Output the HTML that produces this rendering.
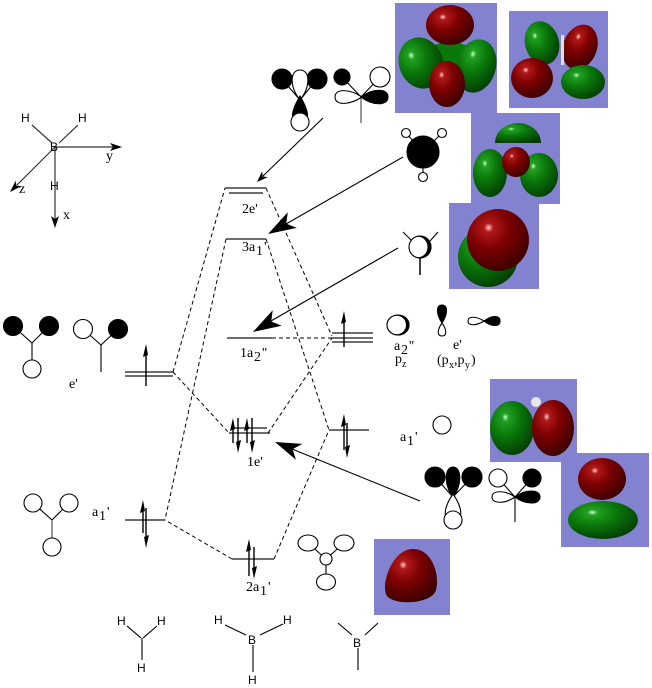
<!DOCTYPE html>
<html><head><meta charset="utf-8">
<style>
html,body{margin:0;padding:0;background:#fff;}
svg{display:block;}
.s{font-family:"Liberation Serif",serif;font-size:14px;fill:#000;}
.ss{font-family:"Liberation Serif",serif;font-size:10px;fill:#000;}
.a{font-family:"Liberation Sans",sans-serif;font-size:12px;fill:#000;}
</style></head>
<body>
<svg width="652" height="688" viewBox="0 0 652 688" xmlns="http://www.w3.org/2000/svg">
<defs>
<radialGradient id="rd" cx="0.35" cy="0.3" r="0.75">
<stop offset="0" stop-color="#ffc8c8"/>
<stop offset="0.1" stop-color="#b01818"/>
<stop offset="0.45" stop-color="#7c0000"/>
<stop offset="1" stop-color="#3a0000"/>
</radialGradient>
<radialGradient id="gr" cx="0.35" cy="0.3" r="0.75">
<stop offset="0" stop-color="#c8ffc8"/>
<stop offset="0.1" stop-color="#22a022"/>
<stop offset="0.45" stop-color="#0a780a"/>
<stop offset="1" stop-color="#033d03"/>
</radialGradient>
</defs>

<!-- orbital boxes -->
<rect x="395" y="3" width="102" height="110" fill="#8282d0"/>
<g>
<ellipse cx="450" cy="55" rx="24" ry="13" fill="#0a780a"/>
<ellipse cx="421" cy="63" rx="22" ry="26" transform="rotate(-20 421 63)" fill="url(#gr)"/>
<ellipse cx="476" cy="66" rx="20" ry="27" transform="rotate(15 476 66)" fill="url(#gr)"/>
<ellipse cx="450" cy="25" rx="24" ry="20" fill="url(#rd)"/>
<ellipse cx="447" cy="84" rx="18" ry="23" fill="url(#rd)"/>
</g>
<rect x="509" y="11" width="99" height="97" fill="#8282d0"/>
<g>
<ellipse cx="542" cy="43" rx="17" ry="22" transform="rotate(-15 542 43)" fill="url(#gr)"/>
<ellipse cx="580" cy="47" rx="17" ry="23" transform="rotate(20 580 47)" fill="url(#rd)"/>
<ellipse cx="532" cy="78" rx="21" ry="20" fill="url(#rd)"/>
<ellipse cx="583" cy="82" rx="22" ry="17" fill="url(#gr)"/>
<rect x="561" y="35" width="3" height="30" fill="#e0e0e0"/>
</g>
<rect x="471" y="113" width="89" height="91" fill="#8282d0"/>
<g>
<path d="M495,143 A23,20 0 0 1 541,143 Z" fill="url(#gr)"/>
<ellipse cx="490" cy="173" rx="17" ry="24" fill="url(#gr)"/>
<ellipse cx="539" cy="175" rx="19" ry="22" fill="url(#gr)"/>
<ellipse cx="516" cy="162" rx="14" ry="15" fill="url(#rd)"/>
</g>
<rect x="449" y="203" width="90" height="86" fill="#8282d0"/>
<g>
<circle cx="488" cy="257" r="30" fill="url(#gr)"/>
<circle cx="498" cy="240" r="31" fill="url(#rd)"/>
</g>
<rect x="490" y="379" width="87" height="83" fill="#8282d0"/>
<g>
<ellipse cx="512" cy="428" rx="22" ry="27" fill="url(#gr)"/>
<ellipse cx="553" cy="428" rx="21" ry="28" fill="url(#rd)"/>
<circle cx="536" cy="402" r="5" fill="#e8e8e8"/>
</g>
<rect x="561" y="453" width="88" height="94" fill="#8282d0"/>
<g>
<ellipse cx="603" cy="520" rx="35" ry="19" fill="url(#gr)"/>
<ellipse cx="602" cy="479" rx="24" ry="21" fill="url(#rd)"/>
</g>
<rect x="374" y="539" width="76" height="76" fill="#8282d0"/>
<path d="M412,549 C432,548 440,575 436,590 C432,604 395,606 387,596 C380,585 392,550 412,549 Z" fill="url(#rd)"/>

<!-- axes -->
<g stroke="#333" stroke-width="1.2" fill="none">
<line x1="32" y1="125" x2="52" y2="143"/>
<line x1="78" y1="125" x2="59" y2="143"/>
<line x1="55" y1="147" x2="114" y2="147"/>
<line x1="55" y1="147" x2="17" y2="185"/>
<line x1="55" y1="147" x2="55" y2="220"/>
</g>
<polygon points="122,147 110,143 113,147 110,151" fill="#000"/>
<polygon points="10,192 21.3,186.3 16.4,185.6 15.7,180.7" fill="#000"/>
<polygon points="55,228 51,216 55,219 59,216" fill="#000"/>
<text class="a" x="21" y="122">H</text>
<text class="a" x="78" y="122">H</text>
<text class="a" x="50" y="151">B</text>
<text class="a" x="50" y="190">H</text>
<text class="s" x="106" y="160">y</text>
<text class="s" x="19" y="193">z</text>
<text class="s" x="63" y="219">x</text>

<!-- energy levels -->
<g stroke="#6e6e6e" stroke-width="2">
<line x1="225" y1="188" x2="266" y2="188"/>
<line x1="229" y1="193" x2="263" y2="193"/>
<line x1="226" y1="239" x2="266" y2="239"/>
<line x1="227" y1="338" x2="272" y2="338"/>
<line x1="332" y1="333" x2="373" y2="333"/>
<line x1="332" y1="338" x2="373" y2="338"/>
<line x1="332" y1="342" x2="373" y2="342"/>
<line x1="125" y1="372" x2="173" y2="372"/>
<line x1="125" y1="376" x2="173" y2="376"/>
<line x1="233" y1="428" x2="267" y2="428"/>
<line x1="229" y1="433" x2="270" y2="433"/>
<line x1="329" y1="430" x2="369" y2="430"/>
<line x1="125" y1="520" x2="165" y2="520"/>
<line x1="232" y1="559" x2="274" y2="559"/>
</g>

<!-- dashed correlation lines -->
<g stroke="#000" stroke-width="1" stroke-dasharray="4,3" fill="none">
<line x1="173" y1="372" x2="229" y2="433"/>
<line x1="173" y1="372" x2="225" y2="188"/>
<line x1="266" y1="188" x2="332" y2="336"/>
<line x1="226" y1="239" x2="165" y2="520"/>
<line x1="266" y1="239" x2="329" y2="430"/>
<line x1="272" y1="338" x2="332" y2="338"/>
<line x1="268" y1="433" x2="332" y2="338"/>
<line x1="232" y1="559" x2="165" y2="520"/>
<line x1="274" y1="559" x2="329" y2="430"/>
</g>

<!-- electron arrows -->
<g stroke="#000" stroke-width="1.4">
<line x1="344" y1="318" x2="344" y2="347"/>
<line x1="146" y1="351" x2="146" y2="386"/>
<line x1="233" y1="425" x2="233" y2="443"/>
<line x1="238" y1="418" x2="238" y2="446"/>
<line x1="247" y1="425" x2="247" y2="443"/>
<line x1="252" y1="418" x2="252" y2="446"/>
<line x1="344" y1="421" x2="344" y2="450"/>
<line x1="347" y1="423" x2="347" y2="451"/>
<line x1="143" y1="507" x2="143" y2="533"/>
<line x1="146" y1="508" x2="146" y2="541"/>
<line x1="249" y1="546" x2="249" y2="576"/>
<line x1="254" y1="547" x2="254" y2="572"/>
</g>
<g fill="#000">
<polygon points="344,311 341,324 346,322"/>
<polygon points="146,344 143,357 148,355"/>
<polygon points="233,418 230,431 235,429"/>
<polygon points="238,453 241,440 236,442"/>
<polygon points="247,418 244,431 249,429"/>
<polygon points="252,453 255,440 250,442"/>
<polygon points="344,414 341,427 346,425"/>
<polygon points="347,458 350,445 345,447"/>
<polygon points="143,500 140,513 145,511"/>
<polygon points="146,548 149,535 144,537"/>
<polygon points="249,539 246,552 251,550"/>
<polygon points="254,579 257,566 252,568"/>
</g>

<!-- pointer arrows -->
<g stroke="#000" stroke-width="1.1">
<line x1="323" y1="118" x2="263" y2="176"/>
<line x1="403" y1="157" x2="286" y2="224"/>
<line x1="398" y1="248" x2="271" y2="321"/>
<line x1="420" y1="501" x2="292" y2="449"/>
</g>
<g fill="#000">
<polygon points="257,182 267.7,177.2 262.7,176.4 262.1,171.4"/>
<polygon points="268,234 296.8,227.9 286.2,223.6 287.8,212.3"/>
<polygon points="253,332 281.7,325.8 271.2,321.5 272.7,310.2"/>
<polygon points="275,442 302.3,443.9 292.6,449.2 295.9,459.7"/>
</g>

<!-- level labels -->
<text class="s" x="242" y="213">2e'</text>
<text class="s" x="242" y="251">3a</text><text class="s" x="256" y="255">1</text><text class="s" x="264" y="251">'</text>
<text class="s" x="240" y="357">1a</text><text class="s" x="254" y="361">2</text><text class="s" x="262" y="357">''</text>
<text class="s" x="247" y="466">1e'</text>
<text class="s" x="246" y="591">2a</text><text class="s" x="260" y="595">1</text><text class="s" x="268" y="591">'</text>
<text class="s" x="69" y="388">e'</text>
<text class="s" x="92" y="516">a</text><text class="s" x="99" y="520">1</text><text class="s" x="107" y="516">'</text>
<text class="s" x="394" y="350">a</text><text class="s" x="401" y="354">2</text><text class="s" x="409" y="350">''</text>
<text class="s" x="395" y="363">p</text><text class="ss" x="402" y="367">z</text>
<text class="s" x="453" y="349">e'</text>
<text class="s" x="437" y="364">(p</text><text class="ss" x="449" y="368">x</text><text class="s" x="454" y="364">,p</text><text class="ss" x="465" y="368">y</text><text class="s" x="471" y="364">)</text>
<text class="s" x="400" y="441">a</text><text class="s" x="407" y="445">1</text><text class="s" x="415" y="441">'</text>

<!-- cartoons -->
<g stroke="#000" stroke-width="1.1" fill="#fff">
<!-- top cartoon 1 -->
<line x1="282" y1="79" x2="300" y2="100"/>
<line x1="317" y1="79" x2="300" y2="100"/>
<circle cx="282" cy="79" r="10" fill="#000"/>
<circle cx="317" cy="79" r="10" fill="#000"/>
<path d="M300,100 C289,86 290,70 300,70 C310,70 311,86 300,100 Z"/>
<path d="M300,96 C294,106 291,114 293,120 L307,120 C309,114 306,106 300,96 Z" fill="#000"/>
<circle cx="300" cy="122" r="9"/>
<!-- top cartoon 2 -->
<line x1="361" y1="97" x2="361" y2="123" stroke="#777" stroke-width="1.5"/>
<line x1="342" y1="77" x2="361" y2="97"/>
<line x1="380" y1="77" x2="361" y2="97"/>
<circle cx="342" cy="77" r="8" fill="#000"/>
<circle cx="380" cy="77" r="10"/>
<path d="M362,97 C350,89 335,88 335,97 C335,106 350,105 362,97 Z"/>
<path d="M361,97 C373,88 388,88 388,97 C388,106 373,106 361,97 Z" fill="#000"/>
<!-- BH3 big -->
<line x1="406" y1="133" x2="423" y2="152"/>
<line x1="442" y1="133" x2="423" y2="152"/>
<line x1="423" y1="152" x2="423" y2="177"/>
<circle cx="406" cy="133" r="4.5"/>
<circle cx="442" cy="133" r="4.5"/>
<circle cx="423" cy="177" r="4.5"/>
<circle cx="423" cy="152" r="16" fill="#000"/>
<!-- pz cartoon -->
<line x1="403" y1="232" x2="412" y2="241"/>
<line x1="438" y1="232" x2="430" y2="241"/>
<line x1="420" y1="255" x2="420" y2="275" stroke-width="1.5"/>
<circle cx="420" cy="247" r="11" fill="#000"/>
<ellipse cx="418" cy="247" rx="9.5" ry="10.3" fill="#fff" stroke="none"/>
<circle cx="420" cy="247" r="11" fill="none"/>
<!-- a2'' crescent -->
<ellipse cx="398" cy="325" rx="11" ry="10" fill="#000"/>
<ellipse cx="396.5" cy="325" rx="9.5" ry="9.3" fill="#fff" stroke="none"/>
<ellipse cx="398" cy="325" rx="11" ry="10" fill="none"/>
<!-- vertical p -->
<path d="M442,323 C436,314 436,305 442,305 C448,305 448,314 442,323 Z" fill="#000"/>
<path d="M442,323 C437,330 437,336 442,336 C447,336 447,330 442,323 Z"/>
<!-- horizontal p -->
<path d="M484,321 C476,316 468,316 468,321 C468,326 476,326 484,321 Z"/>
<path d="M484,321 C492,315 500,315 500,321 C500,327 492,327 484,321 Z" fill="#000"/>
<!-- a1' circle -->
<circle cx="442" cy="425" r="9"/>
<!-- lower right cartoon 1 -->
<line x1="435" y1="477" x2="453" y2="497"/>
<line x1="472" y1="477" x2="453" y2="497"/>
<circle cx="435" cy="477" r="10" fill="#000"/>
<circle cx="472" cy="477" r="10" fill="#000"/>
<path d="M453,497 C444,486 444,467 453,467 C462,467 462,486 453,497 Z" fill="#000"/>
<path d="M453,494 C446,504 444,512 446,518 L460,518 C462,512 460,504 453,494 Z"/>
<circle cx="453" cy="520" r="9"/>
<!-- lower right cartoon 2 -->
<line x1="515" y1="497" x2="515" y2="522"/>
<line x1="498" y1="478" x2="515" y2="497"/>
<line x1="532" y1="478" x2="515" y2="497"/>
<circle cx="498" cy="478" r="9"/>
<circle cx="532" cy="478" r="9" fill="#000"/>
<path d="M515,497 C505,490 492,490 492,497 C492,504 505,504 515,497 Z"/>
<path d="M515,497 C525,489 540,489 540,497 C540,505 525,505 515,497 Z" fill="#000"/>
<!-- left e' cartoons -->
<line x1="13" y1="326" x2="32" y2="343"/>
<line x1="49" y1="326" x2="32" y2="343"/>
<line x1="32" y1="343" x2="32" y2="360"/>
<circle cx="13" cy="326" r="9.5" fill="#000"/>
<circle cx="49" cy="326" r="9.5" fill="#000"/>
<circle cx="32" cy="369" r="9"/>
<line x1="83" y1="329" x2="101" y2="345"/>
<line x1="118" y1="329" x2="101" y2="345"/>
<line x1="101" y1="345" x2="101" y2="372"/>
<circle cx="83" cy="329" r="9.5"/>
<circle cx="118" cy="329" r="9.5" fill="#000"/>
<!-- left a1' cartoon -->
<line x1="33" y1="503" x2="52" y2="520"/>
<line x1="69" y1="503" x2="52" y2="520"/>
<line x1="52" y1="520" x2="52" y2="538" stroke="#777" stroke-width="1.5"/>
<circle cx="33" cy="503" r="9"/>
<circle cx="69" cy="503" r="9"/>
<circle cx="52" cy="547" r="9"/>
<!-- bottom middle cartoon -->
<line x1="308" y1="543" x2="326" y2="559"/>
<line x1="344" y1="543" x2="326" y2="559"/>
<line x1="326" y1="559" x2="326" y2="582"/>
<ellipse cx="308" cy="543" rx="10" ry="8"/>
<ellipse cx="344" cy="543" rx="10" ry="8"/>
<circle cx="326" cy="559" r="6"/>
<ellipse cx="326" cy="582" rx="9.5" ry="8"/>
</g>

<!-- bottom molecules -->
<g stroke="#000" stroke-width="1.1">
<line x1="127" y1="626" x2="141" y2="638"/>
<line x1="157" y1="626" x2="143" y2="638"/>
<line x1="142" y1="638" x2="142" y2="660"/>
<line x1="225" y1="625" x2="246" y2="635"/>
<line x1="260" y1="635" x2="283" y2="624"/>
<line x1="253" y1="645" x2="253" y2="672"/>
<line x1="338" y1="623" x2="352" y2="635"/>
<line x1="378" y1="623" x2="365" y2="635"/>
<line x1="358" y1="648" x2="358" y2="670"/>
</g>
<text class="a" x="117" y="625">H</text>
<text class="a" x="157" y="625">H</text>
<text class="a" x="137" y="672">H</text>
<text class="a" x="214" y="624">H</text>
<text class="a" x="283" y="624">H</text>
<text class="a" x="248" y="644">B</text>
<text class="a" x="248" y="684">H</text>
<text class="a" x="353" y="647">B</text>
</svg>
</body></html>
